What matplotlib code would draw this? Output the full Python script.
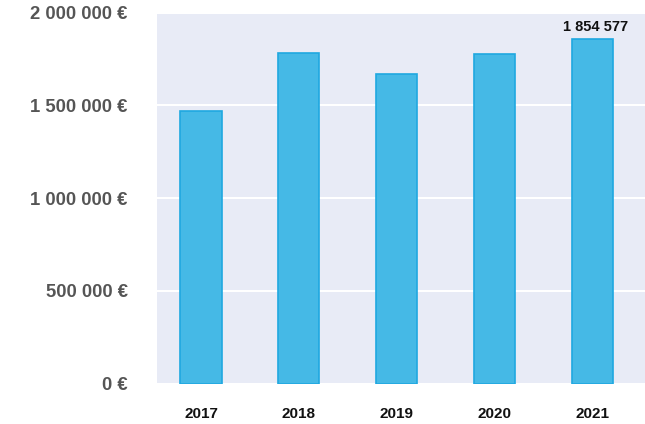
import matplotlib.pyplot as plt
import matplotlib.ticker as mticker

years = ['2017', '2018', '2019', '2020', '2021']
amounts = [1470000, 1784000, 1668000, 1778000, 1854577]
yticks = [0, 500000, 1000000, 1500000, 2000000]


def euro(v, pos=None):
    return '{:,.0f} €'.format(v).replace(',', ' ')


plt.rcParams['font.family'] = ['Liberation Sans', 'DejaVu Sans']

fig = plt.figure(figsize=(6.45, 4.24), dpi=100)
ax = fig.add_axes([157 / 645, 40.5 / 424, 488 / 645, 371 / 424])
ax.set_facecolor('#e8ebf6')

x = range(len(years))
ax.bar(x, amounts, width=0.42, color='#45b9e6', edgecolor='#1fa8e0', linewidth=1.2, zorder=3)

# valeur affichée seulement sur la dernière barre
ax.text(4.03, amounts[-1] + 28000, '1 854 577', ha='center', va='bottom',
        fontsize=10.5, fontweight='bold', color='#111111')

ax.set_ylim(0, 2000000)
ax.set_xlim(-0.45, 4.54)
ax.set_yticks(yticks)
ax.yaxis.set_major_formatter(mticker.FuncFormatter(euro))
ax.set_xticks(list(x))
ax.set_xticklabels(years)

ax.grid(axis='y', color='white', linewidth=1.5, zorder=1)
ax.set_axisbelow(True)
for s in ax.spines.values():
    s.set_visible(False)
ax.tick_params(axis='both', length=0)
ax.tick_params(axis='y', pad=21, labelsize=13.3, labelcolor='#555555')
ax.tick_params(axis='x', pad=17, labelsize=11, labelcolor='#111111')
for lab in ax.get_yticklabels() + ax.get_xticklabels():
    lab.set_fontweight('bold')

fig.savefig('out.png', dpi=100)
